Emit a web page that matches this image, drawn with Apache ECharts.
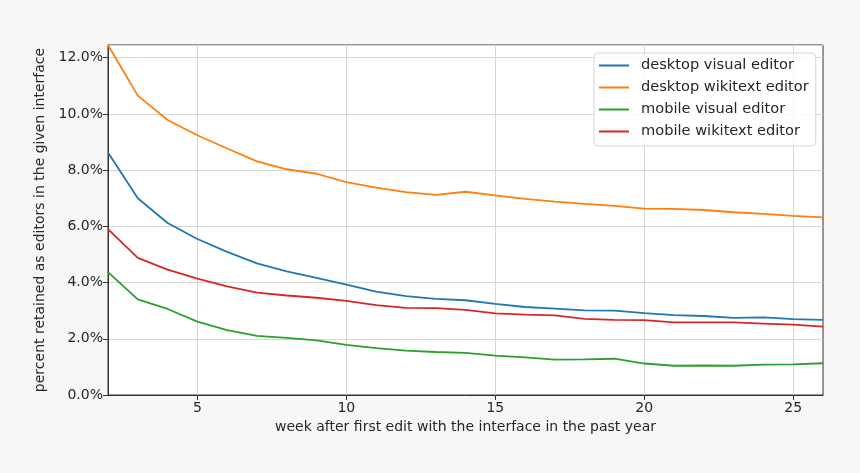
<!DOCTYPE html>
<html>
<head>
<meta charset="utf-8">
<script src="https://cdn.jsdelivr.net/npm/echarts@6/dist/echarts.min.js"></script>
<style>
  html, body { margin: 0; padding: 0; background: #f7f7f7; }
  #main { width: 860px; height: 473px; }
</style>
</head>
<body>
<div id="main"></div>
<script>
// weeks after first edit
const weeks = [2, 3, 4, 5, 6, 7, 8, 9, 10, 11, 12, 13, 14, 15, 16, 17, 18, 19, 20, 21, 22, 23, 24, 25, 26];
const xTicks = [5, 10, 15, 20, 25];

// percent retained
const desktopVisual = [8.63, 7.00, 6.12, 5.55, 5.09, 4.68, 4.40, 4.17, 3.93, 3.68, 3.52, 3.42, 3.37, 3.24, 3.13, 3.07, 3.01, 3.00, 2.91, 2.84, 2.81, 2.74, 2.76, 2.70, 2.67];
const desktopWikitext = [12.45, 10.65, 9.78, 9.24, 8.77, 8.31, 8.03, 7.87, 7.57, 7.38, 7.22, 7.12, 7.23, 7.10, 6.98, 6.88, 6.80, 6.73, 6.63, 6.62, 6.58, 6.50, 6.44, 6.37, 6.32];
const mobileVisual = [4.37, 3.40, 3.06, 2.61, 2.31, 2.10, 2.03, 1.94, 1.78, 1.67, 1.58, 1.53, 1.50, 1.40, 1.34, 1.26, 1.27, 1.29, 1.12, 1.04, 1.05, 1.04, 1.08, 1.09, 1.13];
const mobileWikitext = [5.90, 4.88, 4.46, 4.14, 3.86, 3.64, 3.54, 3.46, 3.35, 3.20, 3.10, 3.09, 3.03, 2.90, 2.86, 2.83, 2.71, 2.67, 2.66, 2.58, 2.58, 2.58, 2.54, 2.50, 2.43];

const names = ['desktop visual editor', 'desktop wikitext editor', 'mobile visual editor', 'mobile wikitext editor'];
const colors = ['#1f77b4', '#ff7f0e', '#2ca02c', '#d62728'];
const allData = [desktopVisual, desktopWikitext, mobileVisual, mobileWikitext];

const font = 'DejaVu Sans';

var myChart = echarts.init(document.getElementById('main'));

let series = allData.map((vals, i) => ({
    name: names[i],
    type: 'line',
    data: weeks.map((w, j) => [w, vals[j]]),
    symbol: 'none',
    lineStyle: { color: colors[i], width: 1.8 },
    itemStyle: { color: colors[i] },
    animation: false
}));

myChart.setOption({
    backgroundColor: '#f7f7f7',
    animation: false,
    grid: {
        left: 108, right: 37, top: 45, bottom: 78,
        show: true,
        backgroundColor: '#ffffff',
        borderColor: '#333333',
        borderWidth: 1
    },
    legend: {
        orient: 'vertical',
        left: 594,
        top: 53,
        data: names,
        icon: 'rect',
        itemWidth: 30,
        itemHeight: 2,
        itemGap: 7,
        padding: [5, 7, 7, 5],
        backgroundColor: 'rgba(255,255,255,0.85)',
        borderColor: '#d5d5d5',
        borderWidth: 1,
        borderRadius: 4,
        textStyle: { fontFamily: font, fontSize: 14.6, color: '#262626', padding: [0, 0, 0, 7] }
    },
    xAxis: {
        type: 'value',
        min: 2,
        max: 26,
        name: 'week after first edit with the interface in the past year',
        nameLocation: 'middle',
        nameGap: 24,
        nameTextStyle: { fontFamily: font, fontSize: 14, color: '#262626' },
        axisLine: { show: true, lineStyle: { color: '#333' } },
        axisTick: { show: true, length: 5, customValues: xTicks, lineStyle: { color: '#333' } },
        axisLabel: { customValues: xTicks, fontFamily: font, fontSize: 14, color: '#262626', margin: 6 },
        splitLine: { show: true, lineStyle: { color: '#d6d6d6', width: 1 } }
    },
    yAxis: {
        type: 'value',
        min: 0,
        max: 12.45,
        interval: 2,
        name: 'percent retained as editors in the given interface',
        nameLocation: 'middle',
        nameGap: 54,
        nameTextStyle: { fontFamily: font, fontSize: 14, color: '#262626' },
        axisLine: { show: true, lineStyle: { color: '#333' } },
        axisTick: { show: true, length: 5, lineStyle: { color: '#333' } },
        axisLabel: {
            fontFamily: font, fontSize: 14, color: '#262626', margin: 5,
            showMaxLabel: false,
            formatter: v => v.toFixed(1) + '%'
        },
        splitLine: { show: true, lineStyle: { color: '#d6d6d6', width: 1 } }
    },
    series: series
});
</script>
</body>
</html>
